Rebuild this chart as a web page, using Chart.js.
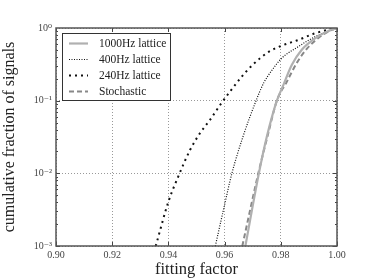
<!DOCTYPE html>
<html>
<head>
<meta charset="utf-8">
<script src="https://cdn.jsdelivr.net/npm/chart.js@4.4.1/dist/chart.umd.min.js"></script>
<style>
  html, body { margin: 0; padding: 0; background: #fff; }
  #wrap { width: 374px; height: 280px; }
</style>
</head>
<body>
<div id="wrap"><canvas id="c" width="374" height="280"></canvas></div>
<script>
// values
const labels = ['1000Hz lattice', '400Hz lattice', '240Hz lattice', 'Stochastic'];

const ff1000 = [0.9674, 0.9722, 0.9750, 0.9786, 0.9809, 0.9839, 0.9874, 0.9922, 0.9969, 1.0];
const cf1000 = [0.001, 0.01, 0.0316, 0.1, 0.164, 0.310, 0.498, 0.721, 0.910, 1.0];

const ff400 = [0.9567, 0.9596, 0.9626, 0.9665, 0.9712, 0.9740, 0.9765, 0.9803, 0.9862, 0.9922, 0.9981, 1.0];
const cf400 = [0.001, 0.00316, 0.01, 0.0316, 0.1, 0.178, 0.251, 0.383, 0.553, 0.759, 0.933, 1.0];

const ff240 = [0.9355, 0.9400, 0.9435, 0.9477, 0.9512, 0.9548, 0.9584, 0.9619, 0.9661, 0.9702, 0.9758, 0.9803, 0.9862, 0.9922, 0.9981, 1.0];
const cf240 = [0.001, 0.00407, 0.00902, 0.0209, 0.0355, 0.0543, 0.0871, 0.133, 0.214, 0.317, 0.472, 0.571, 0.684, 0.845, 0.968, 1.0];

const ffStoch = [0.9663, 0.9720, 0.9752, 0.9786, 0.9820, 0.9857, 0.9894, 0.9936, 0.9974, 1.0];
const cfStoch = [0.001, 0.01, 0.0316, 0.1, 0.178, 0.331, 0.525, 0.741, 0.912, 1.0];

const xTicks = [0.90, 0.92, 0.94, 0.96, 0.98, 1.00];
const yTicks = [0.001, 0.01, 0.1, 1];
const yTickLabels = ['10\u207B\u00B3', '10\u207B\u00B2', '10\u207B\u00B9', '10\u2070'];

const SERIF = '"Liberation Serif", "DejaVu Serif", serif';

function pts(xs, ys) { return xs.map((x, i) => ({ x: x, y: ys[i] })); }

// legend box drawn inside the plot, plus frame and minor ticks
const decor = {
  id: 'decor',
  afterDraw(chart) {
    const { ctx, chartArea: a, scales: { x, y } } = chart;
    ctx.save();
    // minor + major ticks, inward
    ctx.strokeStyle = '#444';
    ctx.lineWidth = 1;
    ctx.setLineDash([]);
    ctx.beginPath();
    for (let e = -3; e < 0; e++) {
      for (let m = 1; m < 10; m++) {
        const py = Math.round(y.getPixelForValue(m * Math.pow(10, e))) + 0.5;
        const len = m === 1 ? 4 : 2;
        ctx.moveTo(a.left, py); ctx.lineTo(a.left + len, py);
        ctx.moveTo(a.right, py); ctx.lineTo(a.right - len, py);
      }
    }
    xTicks.forEach(v => {
      const px = Math.round(x.getPixelForValue(v)) + 0.5;
      ctx.moveTo(px, a.bottom); ctx.lineTo(px, a.bottom - 4);
      ctx.moveTo(px, a.top); ctx.lineTo(px, a.top + 4);
    });
    ctx.stroke();

    // frame
    ctx.strokeStyle = '#555';
    ctx.lineWidth = 1.5;
    ctx.strokeRect(a.left, a.top, a.right - a.left, a.bottom - a.top);

    // legend
    const lx = 62, ly = 33, lw = 108, lh = 67;
    ctx.fillStyle = '#fff';
    ctx.fillRect(lx, ly, lw, lh);
    ctx.strokeStyle = '#333';
    ctx.lineWidth = 1;
    ctx.strokeRect(lx + 0.5, ly + 0.5, lw, lh);
    const rows = [43, 59, 75, 91];
    chart.data.datasets.forEach((ds, i) => {
      const ry = rows[i] + 0.5;
      ctx.strokeStyle = ds.borderColor;
      ctx.lineWidth = ds.borderWidth;
      ctx.setLineDash(ds.borderDash || []);
      ctx.beginPath();
      ctx.moveTo(69, ry); ctx.lineTo(88, ry);
      ctx.stroke();
      ctx.setLineDash([]);
      ctx.fillStyle = '#222';
      ctx.font = '11.5px ' + SERIF;
      ctx.textBaseline = 'middle';
      ctx.textAlign = 'left';
      ctx.fillText(ds.label, 99, ry);
    });
    ctx.restore();
  }
};

new Chart(document.getElementById('c'), {
  type: 'scatter',
  data: {
    datasets: [
      { label: labels[0], data: pts(ff1000, cf1000), borderColor: '#b0b0b0', borderWidth: 2.2, showLine: true, pointRadius: 0, cubicInterpolationMode: 'monotone' },
      { label: labels[1], data: pts(ff400, cf400), borderColor: '#111', borderWidth: 1.2, borderDash: [1, 1.5], showLine: true, pointRadius: 0, cubicInterpolationMode: 'monotone' },
      { label: labels[2], data: pts(ff240, cf240), borderColor: '#111', borderWidth: 2, borderDash: [2, 4], showLine: true, pointRadius: 0, cubicInterpolationMode: 'monotone' },
      { label: labels[3], data: pts(ffStoch, cfStoch), borderColor: '#888', borderWidth: 2, borderDash: [5, 3], showLine: true, pointRadius: 0, cubicInterpolationMode: 'monotone' }
    ]
  },
  options: {
    responsive: false,
    animation: false,
    layout: { padding: { top: 28, right: 37, left: 0, bottom: 0 } },
    plugins: { legend: { display: false }, tooltip: { enabled: false } },
    scales: {
      x: {
        type: 'linear', min: 0.90, max: 1.00,
        afterBuildTicks: s => { s.ticks = xTicks.map(v => ({ value: v })); },
        afterFit: s => { s.height = 34; },
        grid: { color: '#999', drawTicks: false, lineWidth: 1 },
        border: { display: false, dash: [1, 2] },
        ticks: { color: '#444', font: { family: SERIF, size: 10 }, padding: 3, callback: v => v.toFixed(2) },
        title: { display: true, text: 'fitting factor', color: '#222', font: { family: SERIF, size: 16.5 }, padding: { top: -2, bottom: 0 } }
      },
      y: {
        type: 'logarithmic', min: 0.001, max: 1,
        afterBuildTicks: s => { s.ticks = yTicks.map(v => ({ value: v })); },
        afterFit: s => { s.width = 56; },
        grid: { color: '#999', drawTicks: false, lineWidth: 1 },
        border: { display: false, dash: [1, 2] },
        ticks: { color: '#444', font: { family: SERIF, size: 10 }, padding: 4, callback: (v) => yTickLabels[yTicks.indexOf(v)] || '' },
        title: { display: true, text: 'cumulative fraction of signals', color: '#222', font: { family: SERIF, size: 16 }, padding: { top: 0, bottom: 1 } }
      }
    }
  },
  plugins: [decor]
});
</script>
</body>
</html>
